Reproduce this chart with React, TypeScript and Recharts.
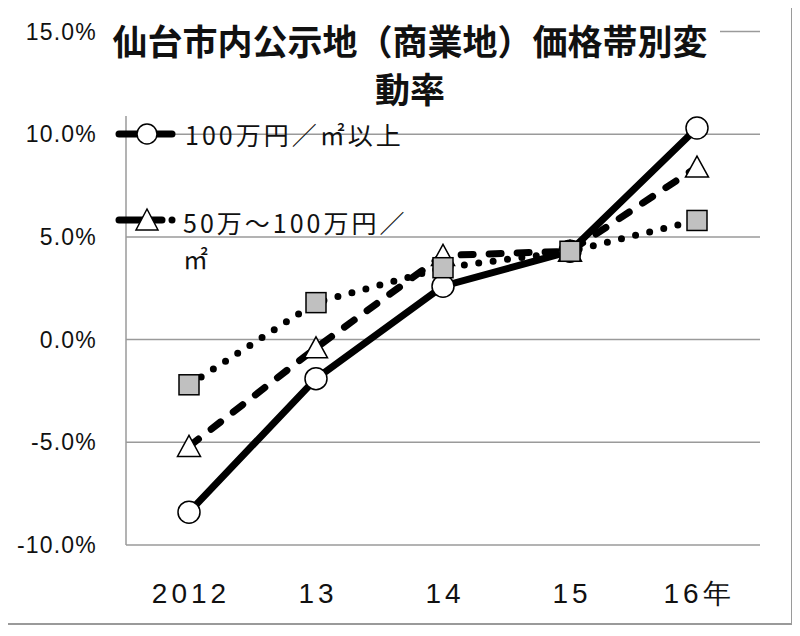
import { CartesianGrid, Legend, Line, LineChart, XAxis, YAxis } from 'recharts';

const years = ['2012', '13', '14', '15', '16年'];
const over100 = [-8.4, -1.9, 2.6, 4.3, 10.3];
const mid50to100 = [-5.2, -0.4, 4.1, 4.3, 8.4];
const under50 = [-2.2, 1.8, 3.5, 4.3, 5.8];
const yTicks = [-10, -5, 0, 5, 10, 15];
const seriesNames = ['100万円／㎡以上', '50万〜100万円／㎡', '50万円／㎡未満'];
const titleLines = ['仙台市内公示地（商業地）価格帯別変', '動率'];

const data = years.map((year, i) => ({
  year,
  over100: over100[i],
  mid: mid50to100[i],
  under50: under50[i],
}));

const FONT = '"Noto Sans CJK JP", "Noto Sans", sans-serif';
const TICK_FONT = '"Liberation Sans", Arial, sans-serif';
const DASH = '12 16';
const DOTS = '0 14.5';

const CircleDot = (p: any) => (
  <circle key={p.index} cx={p.cx} cy={p.cy} r={11} fill="#fff" stroke="#000" strokeWidth={1.5} />
);

const TriangleDot = (p: any) => (
  <path
    key={p.index}
    d={`M${p.cx},${p.cy - 11} L${p.cx + 11.5},${p.cy + 10} L${p.cx - 11.5},${p.cy + 10} Z`}
    fill="#fff"
    stroke="#000"
    strokeWidth={1.5}
  />
);

const SquareDot = (p: any) => (
  <rect
    key={p.index}
    x={p.cx - 10}
    y={p.cy - 10}
    width={20}
    height={20}
    fill="#c0c0c0"
    stroke="#000"
    strokeWidth={1.5}
  />
);

const YTick = ({ x, y, payload }: any) => (
  <text
    x={x - 29}
    y={y}
    textAnchor="end"
    dominantBaseline="central"
    fontFamily={TICK_FONT}
    fontSize={23}
    letterSpacing={1.2}
    fill="#111"
  >
    {`${payload.value.toFixed(1)}%`}
  </text>
);

const XTick = ({ x, y, payload }: any) => (
  <text
    x={x + 2}
    y={y + 48}
    textAnchor="middle"
    dominantBaseline="central"
    fontFamily={TICK_FONT}
    fontSize={28}
    letterSpacing={4}
    fill="#111"
  >
    {payload.value}
  </text>
);

const LegendBox = () => (
  <div style={{ position: 'relative', width: 310, height: 160, fontFamily: FONT, color: '#111' }}>
    <svg width={70} height={30} style={{ position: 'absolute', left: 0, top: 3 }}>
      <line x1={9} y1={15} x2={62} y2={15} stroke="#000" strokeWidth={7} strokeLinecap="round" />
      <circle cx={37} cy={15} r={10} fill="#fff" stroke="#000" strokeWidth={1.5} />
    </svg>
    <div style={{ position: 'absolute', left: 75, top: 2, fontSize: 25, letterSpacing: 3, lineHeight: '32px', whiteSpace: 'nowrap' }}>
      {seriesNames[0]}
    </div>
    <svg width={70} height={30} style={{ position: 'absolute', left: 0, top: 89 }}>
      <line x1={9} y1={15} x2={52} y2={15} stroke="#000" strokeWidth={7} strokeLinecap="round" />
      <circle cx={62} cy={15} r={3.5} fill="#000" />
      <path d="M37,4 L48,25 L26,25 Z" fill="#fff" stroke="#000" strokeWidth={1.5} />
    </svg>
    <div style={{ position: 'absolute', left: 73, top: 88, width: 230, fontSize: 25, letterSpacing: 3, lineHeight: '36px' }}>
      {seriesNames[1]}
    </div>
  </div>
);

export default function App() {
  return (
    <div style={{ position: 'relative', width: 800, height: 636, margin: -8, fontFamily: FONT, background: '#fff' }}>
      <div
        style={{
          position: 'absolute',
          left: 3,
          top: 6,
          width: 786,
          height: 615,
          border: '2px solid #9a9a9a',
        }}
      />
      <LineChart
        width={800}
        height={636}
        data={data}
        margin={{ top: 31.5, right: 40, bottom: 31, left: 0 }}
        style={{ position: 'absolute', left: 0, top: 0 }}
      >
        <CartesianGrid vertical={false} stroke="#9a9a9a" strokeWidth={1.5} />
        <XAxis
          dataKey="year"
          axisLine={false}
          tickLine={false}
          tickSize={0}
          tickMargin={0}
          height={60}
          padding={{ left: 63, right: 63 }}
          tick={<XTick />}
          interval={0}
        />
        <YAxis
          domain={[-10, 15]}
          ticks={yTicks}
          width={126}
          axisLine={{ stroke: '#9a9a9a', strokeWidth: 1.5 }}
          tickLine={false}
          tickSize={0}
          tickMargin={0}
          tick={<YTick />}
          allowDataOverflow
        />
        <Legend
          verticalAlign="middle"
          align="center"
          layout="horizontal"
          wrapperStyle={{ top: 116, left: 110, width: 310, height: 160 }}
          content={<LegendBox />}
        />
        <Line
          dataKey="over100"
          name={seriesNames[0]}
          stroke="#000"
          strokeWidth={7}
          strokeLinecap="round"
          dot={CircleDot}
          activeDot={false}
          isAnimationActive={false}
        />
        <Line
          dataKey="mid"
          name={seriesNames[1]}
          stroke="#000"
          strokeWidth={7}
          strokeLinecap="round"
          strokeDasharray={DASH}
          dot={TriangleDot}
          activeDot={false}
          isAnimationActive={false}
        />
        <Line
          dataKey="under50"
          name={seriesNames[2]}
          stroke="#000"
          strokeWidth={7}
          strokeLinecap="round"
          strokeDasharray={DOTS}
          dot={SquareDot}
          activeDot={false}
          isAnimationActive={false}
        />
      </LineChart>
      <div
        style={{
          position: 'absolute',
          left: 100,
          top: 8,
          width: 620,
          height: 108,
          background: '#fff',
          textAlign: 'center',
          fontWeight: 'bold',
          fontSize: 35,
          lineHeight: '48px',
          paddingTop: 8,
          boxSizing: 'border-box',
          color: '#111',
        }}
      >
        {titleLines.map((t) => (
          <div key={t} style={{ whiteSpace: 'nowrap' }}>{t}</div>
        ))}
      </div>
    </div>
  );
}
